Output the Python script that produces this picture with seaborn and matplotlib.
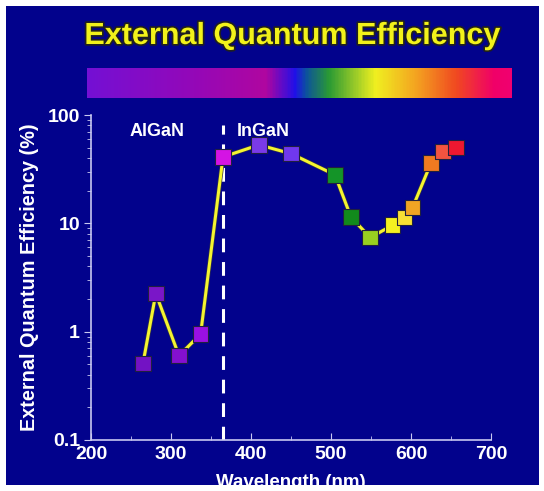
import numpy as np
import pandas as pd
import matplotlib
matplotlib.use("Agg")
import matplotlib.pyplot as plt
import matplotlib.patheffects as pe
from matplotlib.colors import LinearSegmentedColormap
from matplotlib.ticker import LogLocator, NullFormatter, FixedLocator
import seaborn as sns

# data
wavelength = [265, 281, 310, 337, 365, 410, 450, 505, 525, 549, 577, 592, 602, 625, 640, 656]
eqe = [0.51, 2.25, 0.60, 0.95, 41, 53, 44, 28, 11.4, 7.4, 9.6, 11.3, 14, 36, 46, 50]
point_colors = ["#7312c4", "#7a16c8", "#8410d0", "#9a10e4", "#d414e4", "#7a3ae8", "#7038ee",
                "#149428", "#128a1c", "#98d020", "#f4f020", "#f8e034", "#f0a424", "#f07a20",
                "#f25440", "#ee1830"]
x_ticks = [200, 300, 400, 500, 600, 700]
y_ticks = [0.1, 1, 10, 100]
y_tick_labels = ["0.1", "1", "10", "100"]

# spectrum strip across the top
bar_stops = [0.0, 0.25, 0.42, 0.49, 0.515, 0.57, 0.68, 0.78, 0.87, 0.96, 1.0]
bar_colors = ["#7410d4", "#9408b8", "#b006a0", "#2010e8", "#0c50a0", "#2a9a34",
              "#f0f020", "#f4a020", "#f04a20", "#f00068", "#f00070"]

df = pd.DataFrame({"wavelength": wavelength, "eqe": eqe,
                   "pt": [str(i) for i in range(len(wavelength))]})

sns.set_style("ticks")
plt.rcParams["font.family"] = ["Liberation Sans", "DejaVu Sans"]
plt.rcParams["font.weight"] = "bold"

navy = "#02028c"
fig = plt.figure(figsize=(5.44, 4.91), dpi=100)
fig.patch.set_facecolor("white")

# navy slide background
bg = fig.add_axes([6 / 544, 1 - 485 / 491, 533 / 544, 479 / 491], zorder=-10)
bg.set_facecolor(navy)
bg.set_xticks([])
bg.set_yticks([])
for s in bg.spines.values():
    s.set_visible(False)

# colour strip
cax = fig.add_axes([87 / 544, 1 - 98 / 491, 425 / 544, 30 / 491])
cmap = LinearSegmentedColormap.from_list("spec", list(zip(bar_stops, bar_colors)))
cax.imshow(np.linspace(0, 1, 400)[None, :], aspect="auto", cmap=cmap)
cax.set_axis_off()

ax = fig.add_axes([91 / 544, 1 - 440 / 491, 400 / 544, 325 / 491])
ax.patch.set_alpha(0)

sns.lineplot(data=df, x="wavelength", y="eqe", ax=ax, color="#f4f430", lw=2.2,
             sort=False, zorder=2,
             path_effects=[pe.Stroke(linewidth=3.2, foreground="#30304a"), pe.Normal()])
sns.scatterplot(data=df, x="wavelength", y="eqe", hue="pt", palette=point_colors,
                marker="s", s=125, edgecolor="#202040", linewidth=0.8,
                legend=False, ax=ax, zorder=3)

ax.axvline(365, ymin=0.0, ymax=0.97, color="white", lw=2.2, ls=(0, (4.5, 3.2)), zorder=1)

ax.set_yscale("log")
ax.set_xlim(200, 700)
ax.set_ylim(0.1, 100)
ax.xaxis.set_major_locator(FixedLocator(x_ticks))
ax.xaxis.set_minor_locator(FixedLocator([250, 350, 450, 550, 650]))
ax.set_xticklabels([str(t) for t in x_ticks])
ax.yaxis.set_major_locator(FixedLocator(y_ticks))
ax.set_yticklabels(y_tick_labels)
ax.yaxis.set_minor_locator(LogLocator(base=10, subs=np.arange(2, 10)))
ax.yaxis.set_minor_formatter(NullFormatter())

spine_c = "#c8c8f0"
for side in ["top", "right"]:
    ax.spines[side].set_visible(False)
for side in ["left", "bottom"]:
    ax.spines[side].set_color(spine_c)
    ax.spines[side].set_linewidth(1.2)
ax.tick_params(axis="x", which="major", direction="in", length=5, color=spine_c,
               labelcolor="white", labelsize=14, pad=4)
ax.tick_params(axis="x", which="minor", direction="in", length=3, color=spine_c)
ax.tick_params(axis="y", which="major", direction="out", length=5, color=spine_c,
               labelcolor="white", labelsize=14, pad=3)
ax.tick_params(axis="y", which="minor", direction="out", length=3, color=spine_c)
for lab in ax.get_xticklabels() + ax.get_yticklabels():
    lab.set_fontweight("bold")

ax.set_xlabel("Wavelength (nm)", color="white", fontsize=13.5, fontweight="bold", labelpad=8)
ax.set_ylabel("External Quantum Efficiency (%)", color="white", fontsize=14.3,
              fontweight="bold", labelpad=6)

ax.text(0.097, 0.975, "AlGaN", transform=ax.transAxes, color="white", fontsize=13,
        fontweight="bold", va="top")
ax.text(0.365, 0.975, "InGaN", transform=ax.transAxes, color="white", fontsize=13,
        fontweight="bold", va="top")

fig.text(0.537, 1 - 36 / 491, "External Quantum Efficiency", color="#f2f21a",
         fontsize=22, fontweight="bold", ha="center", va="center",
         path_effects=[pe.withStroke(linewidth=2.5, foreground="#202020")])

fig.savefig("out.png", dpi=100, facecolor="white")
